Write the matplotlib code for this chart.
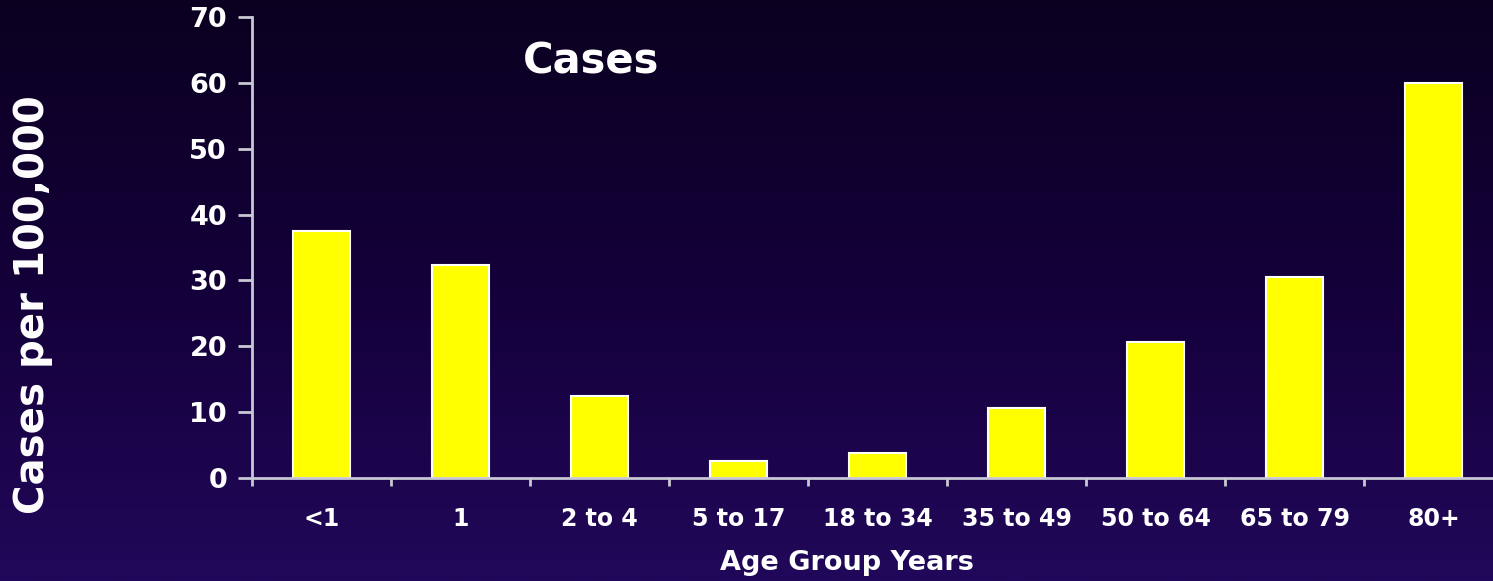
import numpy as np
import matplotlib
matplotlib.use("Agg")
import matplotlib.pyplot as plt
from matplotlib.colors import LinearSegmentedColormap

# Incidence by age group
age_groups = ["<1", "1", "2 to 4", "5 to 17", "18 to 34", "35 to 49", "50 to 64", "65 to 79", "80+"]
cases_per_100k = [37.5, 32.3, 12.5, 2.6, 3.8, 10.6, 20.6, 30.5, 60.0]
y_ticks = [0, 10, 20, 30, 40, 50, 60, 70]

W, H = 1493, 581
fig = plt.figure(figsize=(W / 100, H / 100), dpi=100)

# Dark-to-purple vertical background gradient
bg = fig.add_axes([0, 0, 1, 1], zorder=-10)
grad = np.linspace(0, 1, 256).reshape(-1, 1)
cmap = LinearSegmentedColormap.from_list("bg", ["#0b0020", "#14003a", "#22085a"])
bg.imshow(grad, aspect="auto", cmap=cmap, extent=[0, 1, 0, 1], origin="upper")
bg.set_axis_off()

font = "DejaVu Sans"
ax = fig.add_axes([252 / W, 103 / H, 1251 / W, 461 / H])
ax.patch.set_alpha(0)

x = np.arange(len(age_groups))
ax.bar(x, cases_per_100k, width=0.41, color="#ffff00", edgecolor="white", linewidth=1.5, zorder=3)

ax.set_xlim(-0.5, len(age_groups) - 0.5)
ax.set_ylim(0, 70)

axis_col = "#c8c8d4"
for s in ["top", "right"]:
    ax.spines[s].set_visible(False)
for s in ["left", "bottom"]:
    ax.spines[s].set_color(axis_col)
    ax.spines[s].set_linewidth(2)
    ax.spines[s].set_zorder(4)

ax.set_yticks(y_ticks)
ax.set_yticklabels([str(v) for v in y_ticks], fontsize=19.5, fontweight="bold", color="white", fontname=font)
ax.tick_params(axis="y", direction="out", length=10, width=2, color=axis_col, pad=8)

# Category labels centered, tick marks at category boundaries
ax.set_xticks(x)
ax.set_xticklabels(age_groups, fontsize=17, fontweight="bold", color="white", fontname=font)
ax.tick_params(axis="x", which="major", length=0, pad=21)
ax.set_xticks(np.arange(-0.5, len(age_groups) + 0.5, 1), minor=True)
ax.tick_params(axis="x", which="minor", direction="out", length=6, width=2, color=axis_col)

fig.text(33 / W, 1 - 305 / H, "Cases per 100,000", rotation=90, ha="center", va="center",
         fontsize=29, fontweight="bold", color="white", fontname=font)
fig.text(847 / W, 1 - 563 / H, "Age Group Years", ha="center", va="center",
         fontsize=19.5, fontweight="bold", color="white", fontname=font)
fig.text(591 / W, 1 - 62 / H, "Cases", ha="center", va="center",
         fontsize=30, fontweight="bold", color="white", fontname=font)

fig.savefig("out.png", dpi=100)
